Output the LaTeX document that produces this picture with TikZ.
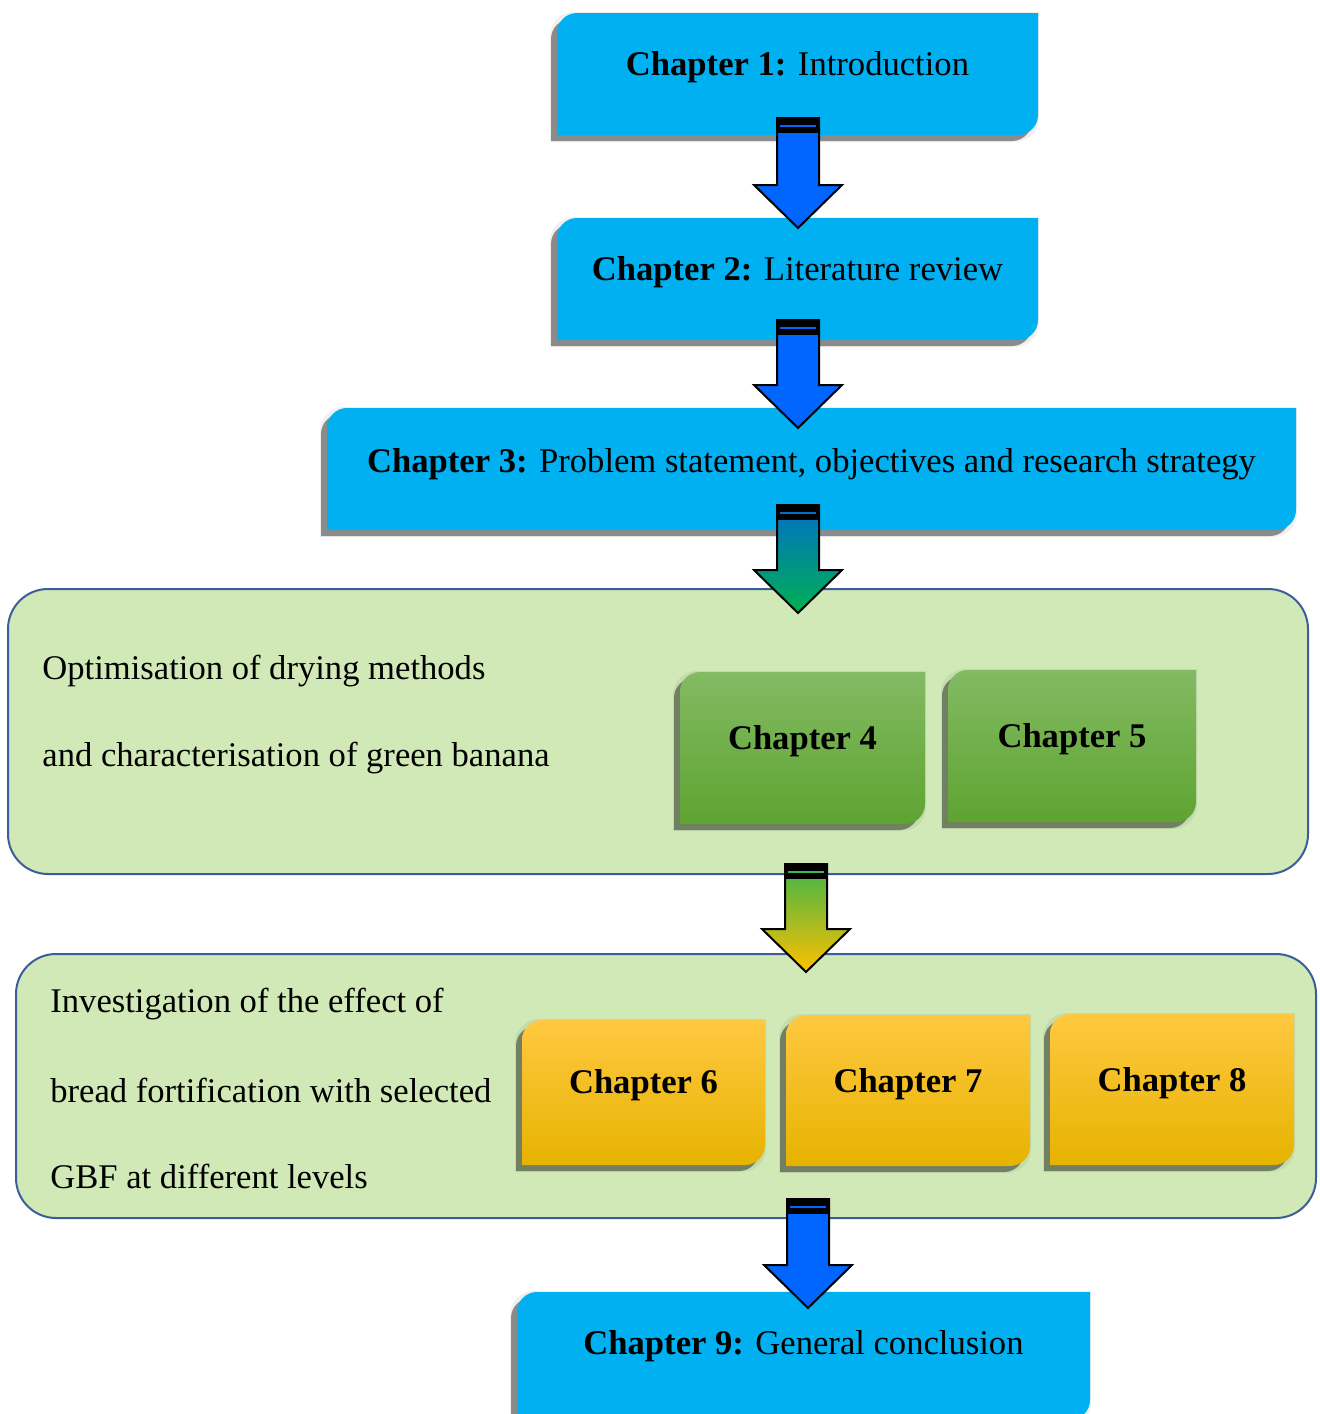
\documentclass[tikz,border=0pt]{standalone}
\usepackage{fontspec}
\setmainfont{Liberation Serif}
\usetikzlibrary{calc}
\definecolor{boxblue}{HTML}{00B0F0}
\definecolor{arrblue}{HTML}{0066FF}
\definecolor{panelg}{HTML}{D1E9B7}
\definecolor{panelb}{HTML}{3B5E9B}
\definecolor{gtop}{HTML}{83BA63}
\definecolor{gbot}{HTML}{5EA431}
\definecolor{ytop}{HTML}{FFC841}
\definecolor{ymid}{HTML}{FFC300}
\definecolor{ybot}{HTML}{E6B300}
\definecolor{athree}{HTML}{0070C8}
\definecolor{athreeb}{HTML}{00B050}
\definecolor{afour}{HTML}{3DB54A}
\definecolor{afourb}{HTML}{FFC000}
% node, radius, dx, dy
\newcommand\dgshape[4]{let \p1=($(#1.north west)+(#3,#4)$), \p2=($(#1.south east)+(#3,#4)$) in (\x1,\y2) -- (\x1,\y1-#2) .. controls (\x1,\y1-0.448*#2) and (\x1+0.448*#2,\y1) .. (\x1+#2,\y1) -- (\x2,\y1) -- (\x2,\y2+#2) .. controls (\x2,\y2+0.448*#2) and (\x2-0.448*#2,\y2) .. (\x2-#2,\y2) -- cycle}
\newcommand\chbox[2]{%
  \draw[black,opacity=.06,line width=4pt] \dgshape{#1}{10pt}{-1.5pt}{-1.5pt};
  \fill[black,opacity=.42] \dgshape{#1}{10pt}{-3pt}{-3pt};
  \path[#2] \dgshape{#1}{10pt}{0pt}{0pt};}
\newcommand\fatarrow[4]{%
  \path[#3,draw=black,line width=1pt,line join=miter] let \p1=(#1), \p2=(#2) in (\x1-10.5pt,\y1) -- (\x1-10.5pt,\y2+21.5pt) -- (\x1-22pt,\y2+21.5pt) -- (\x2,\y2) -- (\x1+22pt,\y2+21.5pt) -- (\x1+10.5pt,\y2+21.5pt) -- (\x1+10.5pt,\y1) -- cycle;
  \fill[black] let \p1=(#1) in (\x1-11pt,\y1+0.5pt) rectangle (\x1+11pt,\y1-7.5pt);
  \draw[#4,line width=1pt] let \p1=(#1) in (\x1-9pt,\y1-4pt) -- (\x1+9pt,\y1-4pt);}
\tikzset{
  boxnode/.style={rectangle,inner sep=0pt,outer sep=0pt},
  chtext/.style={font=\fontsize{17.3}{20}\selectfont,inner sep=0pt},
  ptext/.style={font=\fontsize{17.3}{20}\selectfont,inner sep=0pt,anchor=west},
  panel/.style={rectangle,rounded corners=20pt,fill=panelg,draw=panelb,line width=1pt,inner sep=0pt}
}
\begin{document}
\begin{tikzpicture}[x=0.5pt,y=-0.5pt]
\useasboundingbox (0,0) rectangle (1320,1414);
\fill[white] (0,0) rectangle (1320,1414);
% panels
\node[panel,minimum width=650pt,minimum height=142.5pt] (p1) at (658,731.5) {};
\node[panel,minimum width=650pt,minimum height=132pt] (p2) at (666,1086) {};
% box nodes
\node[boxnode,minimum width=240.5pt,minimum height=61pt] (c1) at (797.5,74) {};
\node[boxnode,minimum width=240.5pt,minimum height=61pt] (c2) at (797.5,279) {};
\node[boxnode,minimum width=484.5pt,minimum height=61pt] (c3) at (811.5,469) {};
\node[boxnode,minimum width=122.5pt,minimum height=76pt] (c4) at (802.5,748) {};
\node[boxnode,minimum width=124pt,minimum height=76pt] (c5) at (1072,746) {};
\node[boxnode,minimum width=121.5pt,minimum height=72.5pt] (c6) at (643.5,1092.5) {};
\node[boxnode,minimum width=122pt,minimum height=75.5pt] (c7) at (908,1090.5) {};
\node[boxnode,minimum width=122pt,minimum height=75.5pt] (c8) at (1172,1089.5) {};
\node[boxnode,minimum width=286.5pt,minimum height=64pt] (c9) at (803.5,1356) {};
% box shapes
\chbox{c1}{fill=boxblue}
\chbox{c2}{fill=boxblue}
\chbox{c3}{fill=boxblue}
\chbox{c4}{shade,top color=gtop,bottom color=gbot}
\chbox{c5}{shade,top color=gtop,bottom color=gbot}
\chbox{c6}{shade,top color=ytop,middle color=ymid,bottom color=ybot}
\chbox{c7}{shade,top color=ytop,middle color=ymid,bottom color=ybot}
\chbox{c8}{shade,top color=ytop,middle color=ymid,bottom color=ybot}
\chbox{c9}{fill=boxblue}
% texts
\node[chtext] (t1) at ($(c1)+(0,-7)$) {\textbf{Chapter 1:} Introduction};
\node[chtext] (t2) at ($(c2)+(0,-7)$) {\textbf{Chapter 2:} Literature review};
\node[chtext] (t3) at ($(c3)+(0,-5)$) {\textbf{Chapter 3:} Problem statement, objectives and research strategy};
\node[chtext] (t4) at ($(c4)+(0,-7)$) {\textbf{Chapter 4}};
\node[chtext] (t5) at ($(c5)+(0,-7)$) {\textbf{Chapter 5}};
\node[chtext] (t6) at ($(c6)+(0,-7)$) {\textbf{Chapter 6}};
\node[chtext] (t7) at ($(c7)+(0,-6)$) {\textbf{Chapter 7}};
\node[chtext] (t8) at ($(c8)+(0,-6)$) {\textbf{Chapter 8}};
\node[chtext] (t9) at ($(c9)+(0,-10)$) {\textbf{Chapter 9:} General conclusion};
\node[ptext] (l1) at (42,671) {Optimisation of drying methods};
\node[ptext] (l2) at (42,758) {and characterisation of green banana};
\node[ptext] (l3) at (50,1004) {Investigation of the effect of};
\node[ptext] (l4) at (50,1090) {bread fortification with selected};
\node[ptext] (l5) at (50,1176) {GBF at different levels};
% arrows
\coordinate (a1s) at (798,118); \coordinate (a1e) at (798,228);
\coordinate (a2s) at (798,320); \coordinate (a2e) at (798,428);
\coordinate (a3s) at (798,505); \coordinate (a3e) at (798,613);
\coordinate (a4s) at (806,864); \coordinate (a4e) at (806,972);
\coordinate (a5s) at (808,1199); \coordinate (a5e) at (808,1308);
\fatarrow{a1s}{a1e}{fill=arrblue}{arrblue}
\fatarrow{a2s}{a2e}{fill=arrblue}{arrblue}
\fatarrow{a3s}{a3e}{shade,top color=athree,bottom color=athreeb}{athree}
\fatarrow{a4s}{a4e}{shade,top color=afour,bottom color=afourb}{afour}
\fatarrow{a5s}{a5e}{fill=arrblue}{arrblue}
\end{tikzpicture}
\end{document}
